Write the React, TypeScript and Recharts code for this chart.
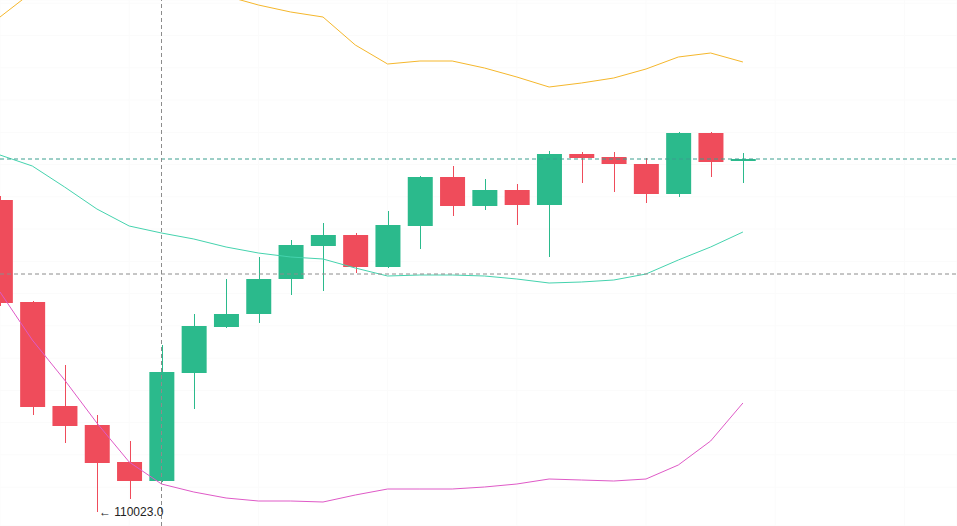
import React from 'react';
import {
  ComposedChart,
  Bar,
  Line,
  XAxis,
  YAxis,
  CartesianGrid,
  ReferenceLine,
  ReferenceDot,
} from 'recharts';

// candle index (category)
const IDX = [0, 1, 2, 3, 4, 5, 6, 7, 8, 9, 10, 11, 12, 13, 14, 15, 16, 17, 18, 19, 20, 21, 22, 23];

const OPEN = [
  110990.2, 110674.0, 110351.6, 110292.7, 110178.0, 110119.1, 110453.9, 110596.5,
  110636.8, 110745.3, 110847.6, 110881.7, 110782.5, 110909.6, 111061.5, 110971.6,
  111021.2, 110974.7, 111132.8, 111123.5, 111101.8, 111008.8, 111197.9, 111111.1,
];
const HIGH = [
  111002.6, 110677.1, 110478.7, 110323.7, 110243.1, 110540.7, 110636.8, 110745.3,
  110813.5, 110866.2, 110918.9, 110887.9, 110956.1, 111064.6, 111095.6, 111055.3,
  111039.8, 111142.1, 111139.0, 111139.0, 111120.4, 111201.0, 111201.0, 111135.9,
];
const LOW = [
  110661.6, 110323.7, 110236.9, 110023.0, 110063.3, 110116.0, 110342.3, 110593.4,
  110608.9, 110695.7, 110708.1, 110763.9, 110779.4, 110838.3, 110940.6, 110959.2,
  110912.7, 110813.5, 111042.9, 111015.0, 110980.9, 110999.5, 111061.5, 111042.9,
];
const CLOSE = [
  110670.9, 110348.5, 110289.6, 110174.9, 110119.1, 110457.0, 110599.6, 110636.8,
  110745.3, 110850.7, 110881.7, 110782.5, 110912.7, 111061.5, 110971.6, 111021.2,
  110974.7, 111132.8, 111120.4, 111101.8, 111008.8, 111197.9, 111108.0, 111117.3,
];

// Bollinger bands
const UPPER = [
  111557.5, 111635.0, 111628.8, 111625.7, 111641.2, 111666.0, 111653.6, 111622.6,
  111594.7, 111573.0, 111557.5, 111470.7, 111411.8, 111421.1, 111421.1, 111399.4,
  111371.5, 111340.5, 111352.9, 111368.4, 111396.3, 111433.5, 111445.9, 111418.0,
];
const MIDDLE = [
  111129.7, 111095.6, 111030.5, 110962.3, 110909.6, 110887.9, 110869.3, 110844.5,
  110825.9, 110813.5, 110807.3, 110779.4, 110754.6, 110757.7, 110757.7, 110754.6,
  110745.3, 110732.9, 110736.0, 110742.2, 110760.8, 110804.2, 110844.5, 110891.0,
];
const LOWER = [
  110705.0, 110556.2, 110432.2, 110298.9, 110178.0, 110109.8, 110085.0, 110066.4,
  110057.1, 110057.1, 110054.0, 110075.7, 110094.3, 110094.3, 110094.3, 110100.5,
  110109.8, 110125.3, 110122.2, 110119.1, 110125.3, 110168.7, 110243.1, 110360.9,
];

const LAST_PRICE = 111117.3;
const CROSS_PRICE = 110760.8;
const CROSS_INDEX = 5;
const LOW_MARK_INDEX = 3;
const LOW_MARK_PRICE = 110023.0;
const LOW_MARK_LABEL = '\u2190 110023.0';

const X_DOMAIN: [number, number] = [0, 29.628];
const Y_DOMAIN: [number, number] = [109979.6, 111610.2];
const X_TICKS = [0, 4, 8, 12, 16, 20, 24, 28];
const Y_TICKS = [110000, 110100, 110200, 110300, 110400, 110500, 110600, 110700, 110800, 110900, 111000, 111100, 111200, 111300, 111400, 111500, 111600];

const GREEN = '#2bba8c';
const RED = '#ef4c5b';

const data = IDX.map((i, k) => ({
  i,
  o: OPEN[k],
  h: HIGH[k],
  l: LOW[k],
  c: CLOSE[k],
  range: [LOW[k], HIGH[k]],
  up: UPPER[k],
  mid: MIDDLE[k],
  lo: LOWER[k],
}));

const Candle = (props: any) => {
  const { x, y, width, height, payload } = props;
  if (!payload || x == null || y == null) return null;
  const { o, h, l, c } = payload;
  const top = Math.min(y, y + height);
  const hgt = Math.abs(height);
  const span = h - l || 1;
  const py = (p: number) => top + ((h - p) / span) * hgt;
  const cx = Math.round(x + width / 2) + 0.5;
  const color = c >= o ? GREEN : RED;
  const bTop = py(Math.max(o, c));
  const bBot = py(Math.min(o, c));
  return (
    <g>
      <line x1={cx} x2={cx} y1={py(h)} y2={py(l)} stroke={color} strokeWidth={1} />
      <rect x={x} y={bTop} width={width} height={Math.max(1.5, bBot - bTop)} fill={color} />
    </g>
  );
};

export default function App() {
  return (
    <div style={{ position: 'absolute', left: 0, top: 0, width: 957, height: 526, background: '#fff' }}>
      <ComposedChart width={957} height={526} data={data} margin={{ top: 0, right: 0, bottom: 0, left: 0 }}>
        <CartesianGrid stroke="#fbfbfb" />
        <XAxis dataKey="i" type="number" domain={X_DOMAIN} ticks={X_TICKS} hide allowDataOverflow />
        <YAxis type="number" domain={Y_DOMAIN} ticks={Y_TICKS} hide allowDataOverflow />
        <Bar dataKey="range" barSize={25} shape={<Candle />} isAnimationActive={false} />
        <Line type="linear" dataKey="up" stroke="#f5b72c" strokeWidth={1} dot={false} activeDot={false} isAnimationActive={false} />
        <Line type="linear" dataKey="mid" stroke="#45d3ae" strokeWidth={1} dot={false} activeDot={false} isAnimationActive={false} />
        <Line type="linear" dataKey="lo" stroke="#df5ac7" strokeWidth={1} dot={false} activeDot={false} isAnimationActive={false} />
        <ReferenceLine y={LAST_PRICE} stroke="#3a9e8e" strokeDasharray="4 3" />
        <ReferenceLine y={CROSS_PRICE} stroke="#8c8c8c" strokeDasharray="4 3" />
        <ReferenceLine x={CROSS_INDEX} stroke="#8c8c8c" strokeDasharray="4 3" />
        <ReferenceDot
          x={LOW_MARK_INDEX}
          y={LOW_MARK_PRICE}
          r={0}
          fill="none"
          stroke="none"
          label={{ value: LOW_MARK_LABEL, position: 'right', offset: 2, fontSize: 12, fill: '#222', fontFamily: 'Liberation Sans, Arial, sans-serif' }}
        />
      </ComposedChart>
    </div>
  );
}
